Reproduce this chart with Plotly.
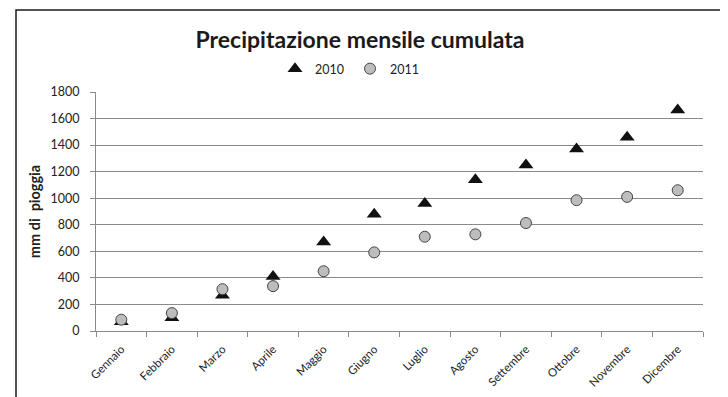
import plotly.graph_objects as go

months = ["Gennaio", "Febbraio", "Marzo", "Aprile", "Maggio", "Giugno",
          "Luglio", "Agosto", "Settembre", "Ottobre", "Novembre", "Dicembre"]
rain_2010 = [70, 100, 270, 410, 670, 880, 960, 1140, 1250, 1370, 1460, 1665]
rain_2011 = [85, 135, 315, 338, 450, 592, 710, 728, 813, 985, 1010, 1060]
y_ticks = [0, 200, 400, 600, 800, 1000, 1200, 1400, 1600, 1800]

FONT = "Lato, 'Open Sans', sans-serif"

fig = go.Figure()
fig.add_trace(go.Scatter(
    x=months, y=rain_2010, mode="markers", name="2010",
    marker=dict(symbol="triangle-up", size=13, color="#111111",
                line=dict(width=0)),
))
fig.add_trace(go.Scatter(
    x=months, y=rain_2011, mode="markers", name="2011",
    marker=dict(symbol="circle", size=11, color="#bdbdbd",
                line=dict(width=1, color="#444444")),
))

# page body has an 8px margin, so the figure is offset by (8, 8)
OFF = 8
W, H = 728 - OFF, 397 - OFF
L, R, T, B = 96 - OFF, 25, 92 - OFF, 66
pw = W - L - R
ph = H - T - B


def px_x(x):
    return (x - OFF - L) / pw


def px_y(y):
    return (H - B - (y - OFF)) / ph


fig.update_layout(
    width=W, height=H,
    margin=dict(l=L, r=R, t=T, b=B, pad=0, autoexpand=False),
    paper_bgcolor="white", plot_bgcolor="white",
    font=dict(family=FONT, size=13, color="#222222"),
    title=dict(text="<b>Precipitazione mensile cumulata</b>",
               x=(360 - OFF) / W, xanchor="center",
               y=1 - (40 - OFF) / H, yanchor="middle", yref="container",
               font=dict(family=FONT, size=23, color="#1a1a1a")),
    showlegend=True,
    legend=dict(orientation="h", x=px_x(350), xanchor="center",
                y=px_y(69), yanchor="middle",
                font=dict(family=FONT, size=12.5, color="#222222"),
                itemwidth=30, entrywidth=30, entrywidthmode="pixels",
                bgcolor="rgba(0,0,0,0)", traceorder="normal"),
    xaxis=dict(type="category", categoryorder="array", categoryarray=months,
               showgrid=False, showline=True, linecolor="#8a8a8a", linewidth=1,
               ticks="outside", tickson="boundaries", ticklen=5,
               tickcolor="#8a8a8a", tickangle=-45, ticklabelstandoff=6,
               tickfont=dict(family=FONT, size=11.5, color="#222222"),
               range=[-0.5, 11.5], fixedrange=True, automargin=False),
    yaxis=dict(range=[0, 1800], tickvals=y_ticks, showgrid=True,
               gridcolor="#8a8a8a", gridwidth=1, zeroline=False,
               showline=True, linecolor="#8a8a8a", linewidth=1,
               ticks="outside", ticklen=5, tickcolor="#8a8a8a",
               ticklabelstandoff=8,
               tickfont=dict(family=FONT, size=12.5, color="#222222"),
               title=dict(text="<b>mm di\u00a0 pioggia</b>", standoff=6,
                          font=dict(family=FONT, size=14.5, color="#222222")),
               fixedrange=True, automargin=False),
    shapes=[dict(type="rect", xref="paper", yref="paper",
                 x0=px_x(16), x1=px_x(725), y0=px_y(410), y1=px_y(10),
                 line=dict(color="#1a1a1a", width=1.5), fillcolor="rgba(0,0,0,0)",
                 layer="above")],
)

fig.write_html("out.html")
